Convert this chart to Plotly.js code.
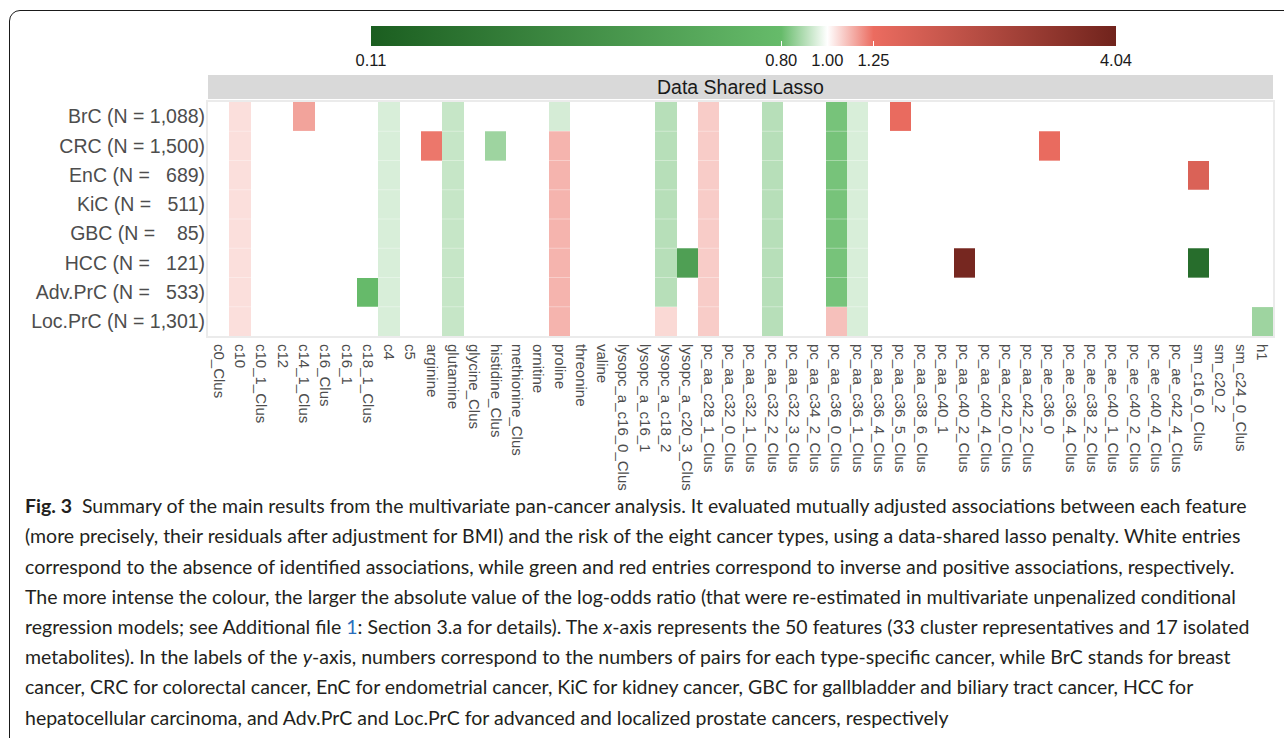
<!DOCTYPE html>
<html>
<head>
<meta charset="utf-8">
<script src="https://cdn.plot.ly/plotly-3.0.1.min.js"></script>
<style>
  html, body { margin: 0; padding: 0; width: 1284px; height: 738px; overflow: hidden; background: #ffffff; }
  #frame { position: absolute; left: 9px; top: 10px; width: 1400px; height: 740px; border: 1.5px solid #1a1a1a; border-radius: 11px; box-sizing: border-box; }
  #chart { position: absolute; left: 0; top: 0; width: 1284px; height: 738px; }
  #caption { position: absolute; left: 25px; top: 0; font-family: "Lato", "Open Sans", sans-serif; color: #231f20; }
  .cl { position: absolute; left: 0; white-space: nowrap; }
  .blue { color: #2a6ebb; }
</style>
</head>
<body>
<div id="frame"></div>
<div id="chart"></div>
<div id="caption"></div>
<script>
// ---- data ----
const features = ["c0_Clus","c10","c10_1_Clus","c12","c14_1_Clus","c16_Clus","c16_1","c18_1_Clus","c4","c5",
  "arginine","glutamine","glycine_Clus","histidine_Clus","methionine_Clus","ornitine","proline","threonine","valine","lysopc_a_c16_0_Clus",
  "lysopc_a_c16_1","lysopc_a_c18_2","lysopc_a_c20_3_Clus","pc_aa_c28_1_Clus","pc_aa_c32_0_Clus","pc_aa_c32_1_Clus","pc_aa_c32_2_Clus","pc_aa_c32_3_Clus","pc_aa_c34_2_Clus","pc_aa_c36_0_Clus",
  "pc_aa_c36_1_Clus","pc_aa_c36_4_Clus","pc_aa_c36_5_Clus","pc_aa_c38_6_Clus","pc_aa_c40_1","pc_aa_c40_2_Clus","pc_aa_c40_4_Clus","pc_aa_c42_0_Clus","pc_aa_c42_2_Clus","pc_ae_c36_0",
  "pc_ae_c36_4_Clus","pc_ae_c38_2_Clus","pc_ae_c40_1_Clus","pc_ae_c40_2_Clus","pc_ae_c40_4_Clus","pc_ae_c42_4_Clus","sm_c16_0_Clus","sm_c20_2","sm_c24_0_Clus","h1"];

const cancers = ["BrC","CRC","EnC","KiC","GBC","HCC","Adv.PrC","Loc.PrC"];
const pairs   = ["1,088","1,500","689","511","85","121","533","1,301"];

const n = null;
// odds ratios (null = no association)
const orBrC = [n,1.05,n,n,1.15,n,n,n,0.945,n,  n,0.92,n,n,n,n,0.94,n,n,n,  n,0.90,n,1.08,n,n,0.90,n,n,0.82,  0.945,n,1.27,n,n,n,n,n,n,n,  n,n,n,n,n,n,n,n,n,n];
const orCRC = [n,1.05,n,n,n,n,n,n,0.945,n,  1.23,0.92,n,0.868,n,n,1.12,n,n,n,  n,0.90,n,1.08,n,n,0.90,n,n,0.82,  0.945,n,n,n,n,n,n,n,n,1.27,  n,n,n,n,n,n,n,n,n,n];
const orEnC = [n,1.05,n,n,n,n,n,n,0.945,n,  n,0.92,n,n,n,n,1.12,n,n,n,  n,0.90,n,1.08,n,n,0.90,n,n,0.82,  0.945,n,n,n,n,n,n,n,n,n,  n,n,n,n,n,n,1.47,n,n,n];
const orKiC = [n,1.05,n,n,n,n,n,n,0.945,n,  n,0.92,n,n,n,n,1.12,n,n,n,  n,0.90,n,1.08,n,n,0.90,n,n,0.82,  0.945,n,n,n,n,n,n,n,n,n,  n,n,n,n,n,n,n,n,n,n];
const orGBC = [n,1.05,n,n,n,n,n,n,0.945,n,  n,0.92,n,n,n,n,1.12,n,n,n,  n,0.90,n,1.08,n,n,0.90,n,n,0.82,  0.945,n,n,n,n,n,n,n,n,n,  n,n,n,n,n,n,n,n,n,n];
const orHCC = [n,1.05,n,n,n,n,n,n,0.945,n,  n,0.92,n,n,n,n,1.12,n,n,n,  n,0.90,0.44,1.08,n,n,0.90,n,n,0.82,  0.945,n,n,n,n,3.8,n,n,n,n,  n,n,n,n,n,n,0.15,n,n,n];
const orAdvPrC = [n,1.05,n,n,n,n,n,0.79,0.945,n,  n,0.92,n,n,n,n,1.12,n,n,n,  n,0.90,n,1.08,n,n,0.90,n,n,0.82,  0.945,n,n,n,n,n,n,n,n,n,  n,n,n,n,n,n,n,n,n,n];
const orLocPrC = [n,1.05,n,n,n,n,n,n,0.945,n,  n,0.92,n,n,n,n,1.12,n,n,n,  n,1.06,n,1.08,n,n,0.90,n,n,1.10,  0.945,n,n,n,n,n,n,n,n,n,  n,n,n,n,n,n,n,n,n,0.868];

const cbTicks = [0.11, 0.80, 1.00, 1.25, 4.04];
const cbTickText = ["0.11", "0.80", "1.00", "1.25", "4.04"];

// ---- build ----
const orRows = [orBrC, orCRC, orEnC, orKiC, orGBC, orHCC, orAdvPrC, orLocPrC];
const padNum = s => { let p = s; while (p.length < 5) p = "\u00a0" + p; return p; };
const yLabels = cancers.map((c, i) => c + " (N =\u00a0" + padNum(pairs[i]) + ")");
const z = orRows.map(r => r.map(v => v === null ? null : Math.log(v)));
const zmin = Math.log(cbTicks[0]), zmax = Math.log(cbTicks[cbTicks.length - 1]);
const frac = v => (Math.log(v) - zmin) / (zmax - zmin);

const colorscale = [
  [0, "rgb(27,94,32)"],
  [frac(0.80), "rgb(102,187,106)"],
  [frac(1.00), "rgb(255,255,255)"],
  [frac(1.25), "rgb(235,108,96)"],
  [1, "rgb(112,35,28)"]
];

const axisFont = "Liberation Sans, Arial, sans-serif";
const plotTop = 102, plotBottom = 336, plotH = plotBottom - plotTop;
const pl = 208, pr = 1273;
const py = px => (plotBottom - px) / plotH;
const pxX = px => (px - pl) / (pr - pl);

const trace = {
  type: "heatmap",
  x: features,
  y: yLabels,
  z: z,
  zmin: zmin, zmax: zmax,
  colorscale: colorscale,
  hoverongaps: false,
  colorbar: {
    orientation: "h",
    x: pxX(371), xanchor: "left",
    len: (1116 - 371) / (pr - pl), lenmode: "fraction",
    y: py(26), yanchor: "top",
    thickness: 20, thicknessmode: "pixels",
    xpad: 0, ypad: 0,
    outlinewidth: 0,
    tickmode: "array",
    tickvals: cbTicks.map(v => Math.log(v)),
    ticktext: cbTickText,
    ticks: "inside", ticklen: 5, tickcolor: "#ffffff", tickwidth: 1,
    tickfont: { family: axisFont, size: 16.5, color: "#1a1a1a" }
  }
};

const shapes = [{
  type: "rect", xref: "paper", yref: "paper",
  x0: 0, x1: 1, y0: py(99), y1: py(75),
  fillcolor: "#d9d9d9", line: { width: 0 }, layer: "above"
}];
for (let i = 1; i < cancers.length; i++) {
  shapes.push({ type: "line", xref: "paper", yref: "y", x0: 0, x1: 1, y0: i - 0.5, y1: i - 0.5,
    line: { color: "rgba(255,255,255,0.35)", width: 1 }, layer: "above" });
}

const layout = {
  width: 1284, height: 738,
  margin: { l: pl, r: 1284 - pr, t: plotTop, b: 738 - plotBottom, pad: 0 },
  paper_bgcolor: "rgba(0,0,0,0)",
  plot_bgcolor: "#ffffff",
  showlegend: false,
  xaxis: {
    type: "category", range: [-0.5, features.length - 0.5],
    tickangle: 90, ticks: "", showgrid: false, zeroline: false,
    showline: true, mirror: true, linecolor: "#ebebeb", linewidth: 2,
    ticklabelstandoff: 3,
    tickfont: { family: axisFont, size: 15, color: "#4d4d4d" },
    fixedrange: true
  },
  yaxis: {
    type: "category", categoryorder: "array", categoryarray: yLabels,
    autorange: "reversed", ticks: "", showgrid: false, zeroline: false,
    showline: true, mirror: true, linecolor: "#ebebeb", linewidth: 2,
    ticklabelstandoff: -3,
    tickfont: { family: axisFont, size: 19.5, color: "#4d4d4d" },
    fixedrange: true
  },
  shapes: shapes,
  annotations: [{
    xref: "paper", yref: "paper", x: 0.5, y: (py(99) + py(75)) / 2,
    xanchor: "center", yanchor: "middle", showarrow: false,
    text: "Data Shared Lasso",
    font: { family: axisFont, size: 19.5, color: "#1a1a1a" }
  }]
};

Plotly.newPlot("chart", [trace], layout, { displayModeBar: false, staticPlot: true });

// ---- caption ----
const captionLines = [
  "<b>Fig. 3</b>&nbsp; Summary of the main results from the multivariate pan-cancer analysis. It evaluated mutually adjusted associations between each feature",
  "(more precisely, their residuals after adjustment for BMI) and the risk of the eight cancer types, using a data-shared lasso penalty. White entries",
  "correspond to the absence of identified associations, while green and red entries correspond to inverse and positive associations, respectively.",
  "The more intense the colour, the larger the absolute value of the log-odds ratio (that were re-estimated in multivariate unpenalized conditional",
  "regression models; see Additional file <span class=\"blue\">1</span>: Section 3.a for details). The <i>x</i>-axis represents the 50 features (33 cluster representatives and 17 isolated",
  "metabolites). In the labels of the <i>y</i>-axis, numbers correspond to the numbers of pairs for each type-specific cancer, while BrC stands for breast",
  "cancer, CRC for colorectal cancer, EnC for endometrial cancer, KiC for kidney cancer, GBC for gallbladder and biliary tract cancer, HCC for",
  "hepatocellular carcinoma, and Adv.PrC and Loc.PrC for advanced and localized prostate cancers, respectively"
];
const cap = document.getElementById("caption");
const firstCenter = 506, lineGap = 30.2;
const divs = captionLines.map((t, i) => {
  const d = document.createElement("div");
  d.className = "cl";
  d.innerHTML = t;
  d.style.fontSize = "18px";
  cap.appendChild(d);
  return d;
});
const w0 = divs[0].getBoundingClientRect().width;
const fs = 18 * 1222 / w0;
divs.forEach((d, i) => {
  d.style.fontSize = fs + "px";
  d.style.lineHeight = "1";
  const h = d.getBoundingClientRect().height;
  d.style.top = (firstCenter + i * lineGap - h / 2) + "px";
});
</script>
</body>
</html>
